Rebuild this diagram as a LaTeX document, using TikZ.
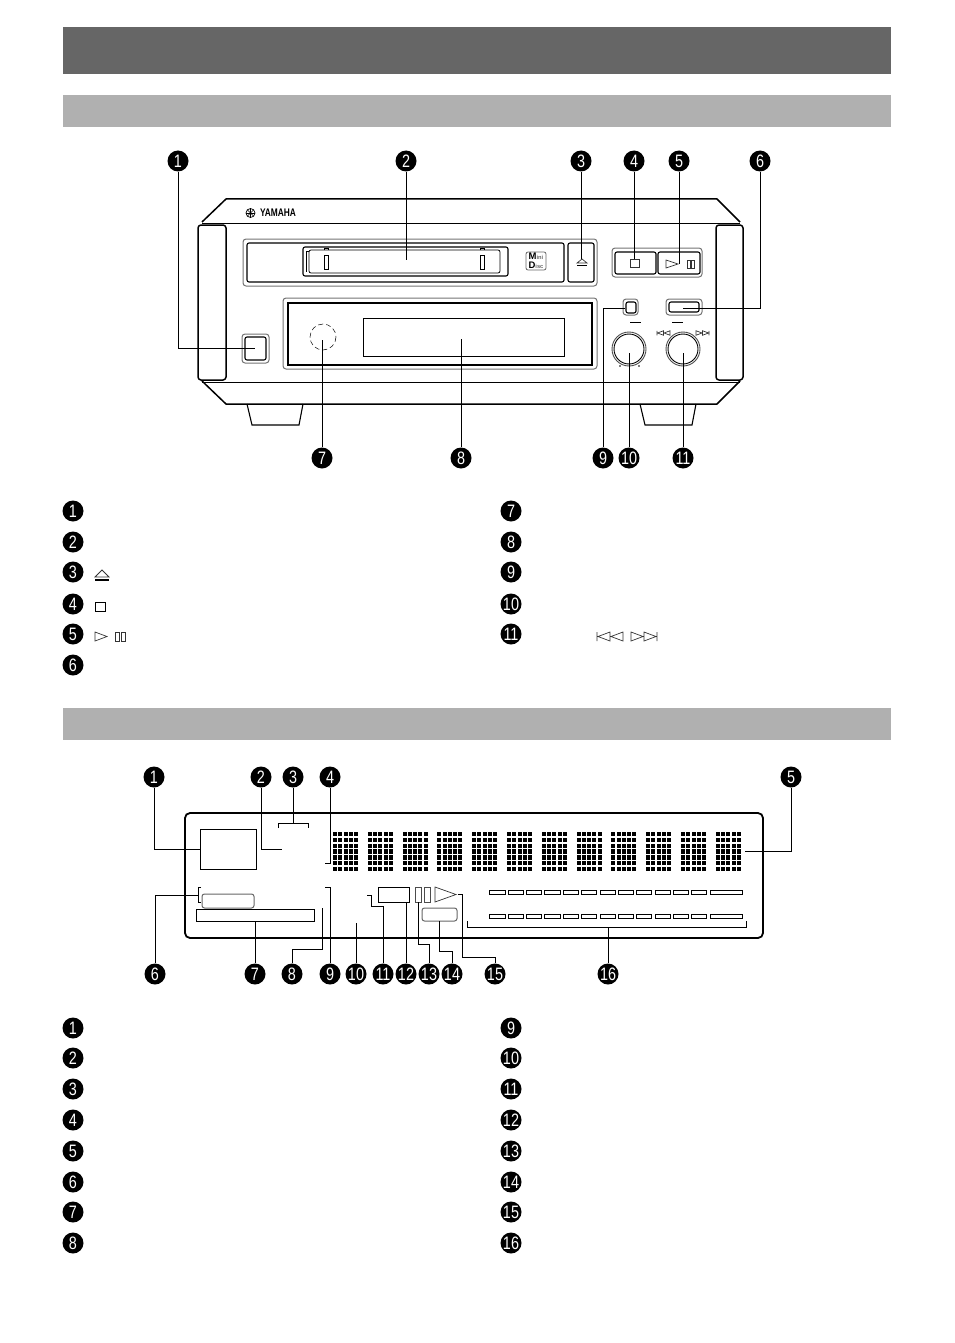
\documentclass[tikz,border=0pt]{standalone}
\usepackage{fontspec}
\usepackage{graphicx}
\usepackage{tikz}
\usetikzlibrary{positioning,calc}
\newfontfamily\numfont{Liberation Sans}
\newcommand{\cnum}[1]{\scalebox{.8}[1]{#1}}
\definecolor{headdark}{gray}{.4}
\definecolor{headlight}{gray}{.69}
\tikzset{
    callout/.style={circle,fill=black,text=white,inner sep=0pt,minimum size=21pt,
        font=\numfont\fontsize{18}{18}\selectfont},
    lead/.style={line width=1pt},
    body/.style={line width=1.5pt,line join=round},
    panel/.style={draw=black,line width=1.1pt,rounded corners=2pt},
    rim/.style={draw=black!55,line width=1pt,rounded corners=3pt},
    lamp/.style={draw=black,line width=1pt,inner sep=0pt,outer sep=0pt},
    softlamp/.style={lamp,draw=black!60,rounded corners=2.5pt},
    glyph/.style={draw=black!80,line width=.7pt},
    skipback/.pic={
        \draw[glyph] (0,-4.5) -- (0,4.5)
            (13,-4.5) -- (1,0) -- (13,4.5) -- cycle
            (26,-4.5) -- (14,0) -- (26,4.5) -- cycle;
    },
    skipfwd/.pic={
        \draw[glyph] (26,-4.5) -- (26,4.5)
            (0,-4.5) -- (12,0) -- (0,4.5) -- cycle
            (13,-4.5) -- (25,0) -- (13,4.5) -- cycle;
    }
}
\begin{document}
\begin{tikzpicture}[x=1pt,y=-1pt]
    \useasboundingbox (0,0) rectangle (954,1343);
    \fill[headdark] (63,27) rectangle (891,74);
    \fill[headlight] (63,95) rectangle (891,127);
    \fill[headlight] (63,708) rectangle (891,740);

    \foreach \n/\x/\y in {1/178/161,2/406/161,3/581/161,4/634/161,5/679/161,6/760/161,
        7/322/458,8/461/458,9/603/458,10/629/458,11/683/458}
        \node[callout] (dev\n) at (\x,\y) {\cnum{\n}};
    \foreach \n/\y in {1/511,2/542,3/572,4/604,5/634,6/665}
        \node[callout] (lega\n) at (73,\y) {\cnum{\n}};
    \foreach \n/\y in {7/511,8/542,9/572,10/604,11/634}
        \node[callout] (lega\n) at (511,\y) {\cnum{\n}};
    \foreach \n/\x/\y in {1/154/777,2/261/777,3/293/777,4/330/777,5/791/777,
        6/155/974,7/255/974,8/292/974,9/330/974,10/356/974,11/383/974,12/406/974,
        13/429/974,14/452/974,15/495/974,16/608/974}
        \node[callout] (disp\n) at (\x,\y) {\cnum{\n}};
    \foreach \n/\y in {1/1028,2/1058,3/1089,4/1120,5/1151,6/1182,7/1212,8/1243}
        \node[callout] (legb\n) at (73,\y) {\cnum{\n}};
    \foreach \n/\y in {9/1028,10/1058,11/1089,12/1120,13/1151,14/1182,15/1212,16/1243}
        \node[callout] (legb\n) at (511,\y) {\cnum{\n}};

    \draw[body] (202,222) -- (226,199) -- (717,199) -- (740,222);
    \draw[body] (202,381) -- (226,404) -- (717,404) -- (740,381);
    \draw[line width=1pt] (202,223) -- (740,223) (202,382) -- (740,382);
    \draw[line width=1.1pt] (247,404) -- (252,425) -- (299,425) -- (303,404);
    \draw[line width=1.1pt] (640,404) -- (645,425) -- (692,425) -- (696,404);
    \filldraw[fill=white,body,rounded corners=3pt] (198,225) rectangle (226,380);
    \filldraw[fill=white,body,rounded corners=3pt] (716,225) rectangle (743,380);

    \node[font=\numfont\bfseries\fontsize{11}{11}\selectfont,inner sep=0pt] (brand) at (278,213) {\scalebox{.76}[1]{YAMAHA}};
    \draw[line width=.7pt] (250.5,213) circle (4.5);
    \foreach \a in {0,45,90,135}
        \draw[line width=.5pt] ($(250.5,213)+(\a:4.5)$) -- ($(250.5,213)+(\a+180:4.5)$);

    \draw[rim] (243,239) rectangle (597,286);
    \draw[panel] (247,243) rectangle (564,282);
    \draw[panel] (568,243) rectangle (594,282);
    \draw[panel] (303,247) rectangle (508,276);
    \draw[line width=.8pt,rounded corners=2pt] (309,250) rectangle (500,273);
    \draw[line width=.7pt] (324,255) rectangle (328,269) (480,255) rectangle (484,269);
    \draw[line width=.6pt] (309,251) -- (306,251) -- (306,272) (324,250) -- (324,248) -- (328,248) -- (328,250)
        (480,250) -- (480,248) -- (484,248) -- (484,250);
    \node[draw=black!60,rounded corners=2pt,line width=.8pt,minimum width=20pt,minimum height=18pt,
        inner sep=0pt,align=left,font=\numfont\bfseries\fontsize{9.5}{8.5}\selectfont] (mdlogo) at (536,261)
        {M{\color{black!60}\scalebox{.6}{ini}}\\D{\color{black!60}\scalebox{.6}{isc}}};
    \draw[glyph] (577,263) -- (582,259) -- (587,263) -- cycle;
    \draw[line width=.9pt] (577,265) -- (587,265);

    \draw[rim] (612,248) rectangle (702,277);
    \draw[panel] (615,252) rectangle (656,274);
    \draw[panel] (658,252) rectangle (700,274);
    \draw[glyph] (630,259) rectangle (639,267);
    \draw[glyph] (666,260) -- (678,264) -- (666,268) -- cycle;
    \draw[glyph] (687,260) rectangle (690,268) (691,260) rectangle (694.5,268);

    \draw[rim] (283,298) rectangle (597,369);
    \draw[panel,rounded corners=0pt] (288,303) rectangle (592,365);
    \draw[line width=1pt] (363,318) rectangle (564,356);
    \draw[line width=.5pt,dash pattern=on 5pt off 3pt] (323,337) circle (13);

    \draw[rim] (242,334) rectangle (269,363);
    \draw[panel] (245,337) rectangle (266,360);
    \draw[rim] (666,299) rectangle (702,315);
    \draw[panel] (669,302) rectangle (699,312);
    \draw[rim] (623,299) rectangle (638,315);
    \draw[panel] (626,302) rectangle (636,313);
    \draw[line width=.9pt] (630,322) -- (641,322) (672,322) -- (683,322);
    \draw[black!70,line width=.9pt] (629,349) circle (17) (683,349) circle (17);
    \draw[line width=.9pt] (629,349) circle (15) (683,349) circle (15);
    \fill (620,366) circle (.8) (639,366) circle (.8);
    \pic[scale=.5] at (657,333) {skipback};
    \pic[scale=.5] at (696,333) {skipfwd};

    \coordinate (btn1) at (255,348);
    \coordinate (slot2) at (406,260);
    \coordinate (eject3) at (581,259);
    \coordinate (stop4) at (634,259);
    \coordinate (play5) at (679,264);
    \coordinate (btn6) at (683,308);
    \coordinate (sensor7) at (322,340);
    \coordinate (window8) at (461,339);
    \coordinate (btn9) at (625,308);
    \coordinate (knob10) at (629,353);
    \coordinate (knob11) at (683,353);
    \draw[lead]
        (dev1) |- (btn1)
        (dev2) -- (slot2)
        (dev3) -- (eject3)
        (dev4) -- (stop4)
        (dev5) -- (play5)
        (dev6) |- (btn6)
        (dev7) -- (sensor7)
        (dev8) -- (window8)
        (dev9) |- (btn9)
        (dev10) -- (knob10)
        (dev11) -- (knob11);

    \draw[glyph,line width=.8pt] (95,577) -- (102,570) -- (109,577) -- cycle;
    \draw[line width=1.4pt] (95,580) -- (109,580);
    \draw[line width=.9pt] (95,602) rectangle (105,611);
    \draw[glyph] (95,632) -- (107,636.5) -- (95,641) -- cycle;
    \draw[glyph] (115,632) rectangle (119,641) (121,632) rectangle (125,641);
    \pic at (597,636.5) {skipback};
    \pic at (631,636.5) {skipfwd};

    \draw[line width=1.8pt,rounded corners=5pt] (185,813) rectangle (763,938);
    \foreach \c in {0,...,11}
        \foreach \i in {0,...,4}
            \foreach \j in {0,...,6}
                \fill ({333+\c*34.8+\i*5.25},{832+\j*5.8}) rectangle +(4,4.3);
    \foreach \a/\b in {489/505,508.3/523.3,526.7/541.3,544.7/560,563.3/578.3,581.7/596.7,600.3/615,
        618.3/633.3,636.7/651.7,655/670,673.3/688.3,691/706.7,710/742.3}
        \draw[line width=1pt] (\a,890) rectangle (\b,894) (\a,914) rectangle (\b,918);

    \node[lamp,minimum width=56pt,minimum height=40pt] (clock1) at (228,849) {};
    \node[softlamp,minimum width=52pt,minimum height=14pt] (lamp6) at (228,901) {};
    \node[lamp,minimum width=118pt,minimum height=12pt] (bar7) at (255,915) {};
    \node[lamp,minimum width=31pt,minimum height=15pt] (box12) at (393.5,894.5) {};
    \node[lamp,draw=black!70,minimum width=6pt,minimum height=15pt] (seg13) at (418.5,894.5) {};
    \node[lamp,draw=black!70,minimum width=6pt,minimum height=15pt] (segb13) at (427.5,894.5) {};
    \node[softlamp,minimum width=35pt,minimum height=13pt] (box14) at (439.5,914.5) {};
    \draw[glyph] (435,887) -- (456,894.5) -- (435,902) -- cycle;

    \coordinate (icon2) at (282,849);
    \coordinate (top3) at (293,823);
    \coordinate (icon4) at (325,863);
    \coordinate (seg5) at (745,851);
    \coordinate (icon6) at (198,895);
    \coordinate (turn8) at (322,908);
    \coordinate (icon9) at (325,887);
    \coordinate (icon10) at (356,923);
    \coordinate (bend11) at (371,906);
    \coordinate (icon11) at (367,895);
    \coordinate (bend13) at (429,944);
    \coordinate (bend14) at (452,951);
    \coordinate (tip15) at (458,894.5);
    \coordinate (bend15) at (495,957);
    \coordinate (mid16) at (608,927);
    \draw[lead]
        (disp1) |- (clock1)
        (disp2) |- (icon2)
        (disp3) -- (top3)
        (disp4) |- (icon4)
        (disp5) |- (seg5)
        (disp6) |- (icon6)
        (bar7) -- (disp7)
        (disp8) |- (turn8 |- 0,949) -- (turn8)
        (disp9) |- (icon9)
        (disp10) -- (icon10)
        (disp11) |- (bend11) |- (icon11)
        (box12.south -| disp12) -- (disp12)
        (seg13.south) |- (bend13) -- (disp13)
        (box14.south) |- (bend14) -- (disp14)
        (tip15) -- (462,894.5) |- (bend15) -- (disp15)
        (mid16) -- (disp16);
    \draw[lead] (278,828) -- (278,823) -- (308,823) -- (308,828);
    \draw[lead] (201,887) -- (198,887) -- (198,902) -- (201,902);
    \draw[lead] (467,921) -- (467,927) -- (746,927) -- (746,921);
\end{tikzpicture}
\end{document}
